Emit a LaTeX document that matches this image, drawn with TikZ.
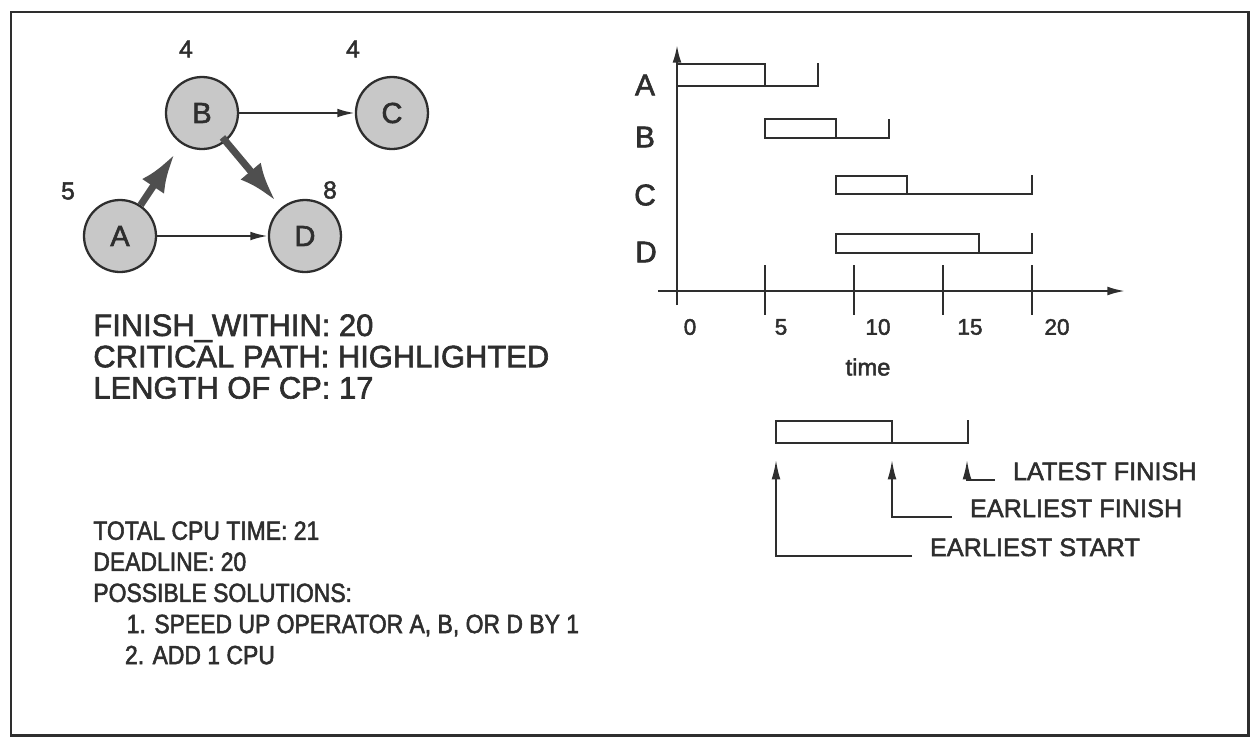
\documentclass[tikz,border=0pt]{standalone}
\usepackage{fontspec}
\setmainfont{Liberation Sans}[FakeBold=2]
\newfontfamily\narrowfont{Liberation Sans}[FakeStretch=0.87, FakeBold=2]
\usetikzlibrary{arrows.meta, positioning}
\definecolor{ink}{HTML}{2E2E2E}
\definecolor{opfill}{HTML}{C8C8C8}
\definecolor{critgray}{HTML}{4F4F4F}

\begin{document}
\begin{tikzpicture}[x=0.02cm, y=-0.02cm, >={Latex[length=10pt,width=5pt]}]
    \tikzstyle{op} = [circle, draw=ink, line width=1.3pt, fill=opfill, minimum size=1.44cm, inner sep=0pt, text=ink, font=\fontsize{16.5}{16.5}\selectfont]
    \tikzstyle{wt} = [text=ink, font=\fontsize{14}{14}\selectfont]
    \tikzstyle{edge} = [->, line width=1.2pt, color=ink]
    \tikzstyle{critedge} = [-{Latex[length=22pt,width=15pt]}, line width=4pt, color=critgray]
    \tikzstyle{note} = [anchor=north west, inner sep=0pt, align=left, text=ink]
    \tikzstyle{row} = [text=ink, font=\fontsize{17}{17}\selectfont]
    \tikzstyle{tick} = [text=ink, font=\fontsize{12.8}{12.8}\selectfont]
    \tikzstyle{bar} = [line width=1.2pt, color=ink]
    \tikzstyle{legend} = [anchor=base west, inner xsep=10pt, text=ink, font=\fontsize{14.4}{14.4}\selectfont]
    \tikzstyle{pointer} = [-{Latex[length=11pt,width=5pt]}, line width=1pt, color=ink]

    \useasboundingbox (0,0) rectangle (1250,738);
    \draw [ink, line width=1.7pt] (11,12) rectangle (1248,735);

    \node (A) [op] at (120,236) {A};
    \node (B) [op] at (202,113) {B};
    \node (C) [op, right of=B, node distance=3.8cm] {C};
    \node (D) [op, right of=A, node distance=3.7cm] {D};

    \node (wA) [wt] at (68,191) {5};
    \node (wB) [wt] at (186,49) {4};
    \node (wC) [wt] at (353,49) {4};
    \node (wD) [wt] at (330,190) {8};

    \draw [edge] (A) -- (D);
    \draw [edge] (B) -- (C);
    \draw [critedge, shorten >=7pt] (A) -- (B);
    \draw [critedge, shorten >=5pt, shorten <=-3pt] (B) -- (D);

    \node (plan) [note, font=\fontsize{17.6}{17.8}\selectfont] at (93,314) {FINISH\_WITHIN: 20\\CRITICAL PATH: HIGHLIGHTED\\LENGTH OF CP: 17};
    \node (fix) [note, font=\narrowfont\fontsize{15}{17.7}\selectfont] at (93,521) {TOTAL CPU TIME: 21\\DEADLINE: 20\\POSSIBLE SOLUTIONS:\\\hspace*{19pt}1. SPEED UP OPERATOR A, B, OR D BY 1\\\hspace*{18pt}2. ADD 1 CPU};

    \draw [->, line width=1.2pt, ink] (658,291) -- (1125,291);
    \draw [->, line width=1.2pt, ink] (677,305) -- (677,45);
    \draw [bar] (765,265) -- (765,315);
    \draw [bar] (854,265) -- (854,315);
    \draw [bar] (943,265) -- (943,315);
    \draw [bar] (1032,265) -- (1032,315);
    \node (t0) [tick] at (690,327) {0};
    \node (t5) [tick] at (781,327) {5};
    \node (t10) [tick] at (878,327) {10};
    \node (t15) [tick] at (970,327) {15};
    \node (t20) [tick] at (1057,327) {20};
    \node (tl) [tick, font=\fontsize{13.5}{13.5}\selectfont] at (868,367) {time};

    \node (rA) [row] at (645,85) {A};
    \node (rB) [row] at (645,137) {B};
    \node (rC) [row] at (645,195) {C};
    \node (rD) [row] at (646,252) {D};

    \draw [bar] (677,64) rectangle (765,86);
    \draw [bar] (765,86) -- (818,86) -- (818,63);
    \draw [bar] (765,119) rectangle (836,138);
    \draw [bar] (836,138) -- (889,138) -- (889,119);
    \draw [bar] (836,176) rectangle (907,194);
    \draw [bar] (907,194) -- (1032,194) -- (1032,175);
    \draw [bar] (836,234) rectangle (979,253);
    \draw [bar] (979,253) -- (1032,253) -- (1032,233);

    \draw [bar] (776,421) rectangle (892,443);
    \draw [bar] (892,443) -- (968,443) -- (968,420);
    \coordinate (esT) at (776,460);
    \coordinate (efT) at (892,460);
    \coordinate (lfT) at (967,460);
    \node (lf) [legend] at (995,480) {LATEST FINISH};
    \node (ef) [legend] at (952,517) {EARLIEST FINISH};
    \node (es) [legend] at (912,556) {EARLIEST START};
    \draw [pointer] (lf.base west) -| (lfT);
    \draw [pointer] (ef.base west) -| (efT);
    \draw [pointer] (es.base west) -| (esT);
\end{tikzpicture}
\end{document}
